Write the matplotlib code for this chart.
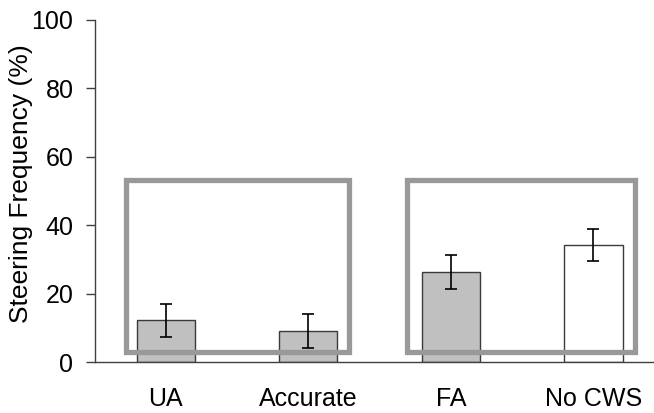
import matplotlib.pyplot as plt
from matplotlib.patches import Rectangle

plt.rcParams['font.family'] = ['Liberation Sans', 'DejaVu Sans']

conditions = ['UA', 'Accurate', 'FA', 'No CWS']
steering = [12.3, 9.2, 26.5, 34.3]
errors = [4.8, 5.0, 4.9, 4.8]
fills = ['#c0c0c0', '#c0c0c0', '#c0c0c0', '#ffffff']

# grey frames around the two condition pairs (x0, x1, y0, y1 in data units)
frames = [(-0.28, 1.285, 3.2, 53.3), (1.69, 3.29, 3.2, 53.3)]

fig = plt.figure(figsize=(6.54, 4.13), dpi=100)
ax = fig.add_axes([0.1453, 0.1223, 0.8547, 0.8293])

x = range(len(conditions))
ax.bar(x, steering, width=0.41, color=fills, edgecolor='#3a3a3a', linewidth=1.0, zorder=2)
ax.errorbar(x, steering, yerr=errors, fmt='none', ecolor='black', elinewidth=1.2,
            capsize=4.3, capthick=1.2, zorder=4)

for x0, x1, y0, y1 in frames:
    ax.add_patch(Rectangle((x0, y0), x1 - x0, y1 - y0, fill=False,
                           edgecolor='#999999', linewidth=3.8, zorder=3))

ax.set_xlim(-0.496, 3.426)
ax.set_ylim(0, 100)
ax.set_yticks(range(0, 101, 20))
ax.set_xticks(list(x))
ax.set_xticklabels(conditions, fontsize=18)
ax.tick_params(axis='x', length=0, pad=18)
ax.tick_params(axis='y', length=6.5, width=1, color='#404040', labelsize=18, pad=9)

for side in ['top', 'right']:
    ax.spines[side].set_visible(False)
for side in ['left', 'bottom']:
    ax.spines[side].set_color('#404040')
    ax.spines[side].set_linewidth(1.0)

ax.set_ylabel('Steering Frequency (%)', fontsize=19)
ax.yaxis.set_label_coords(-0.111, 0.521)

plt.savefig('out.png', dpi=100)
